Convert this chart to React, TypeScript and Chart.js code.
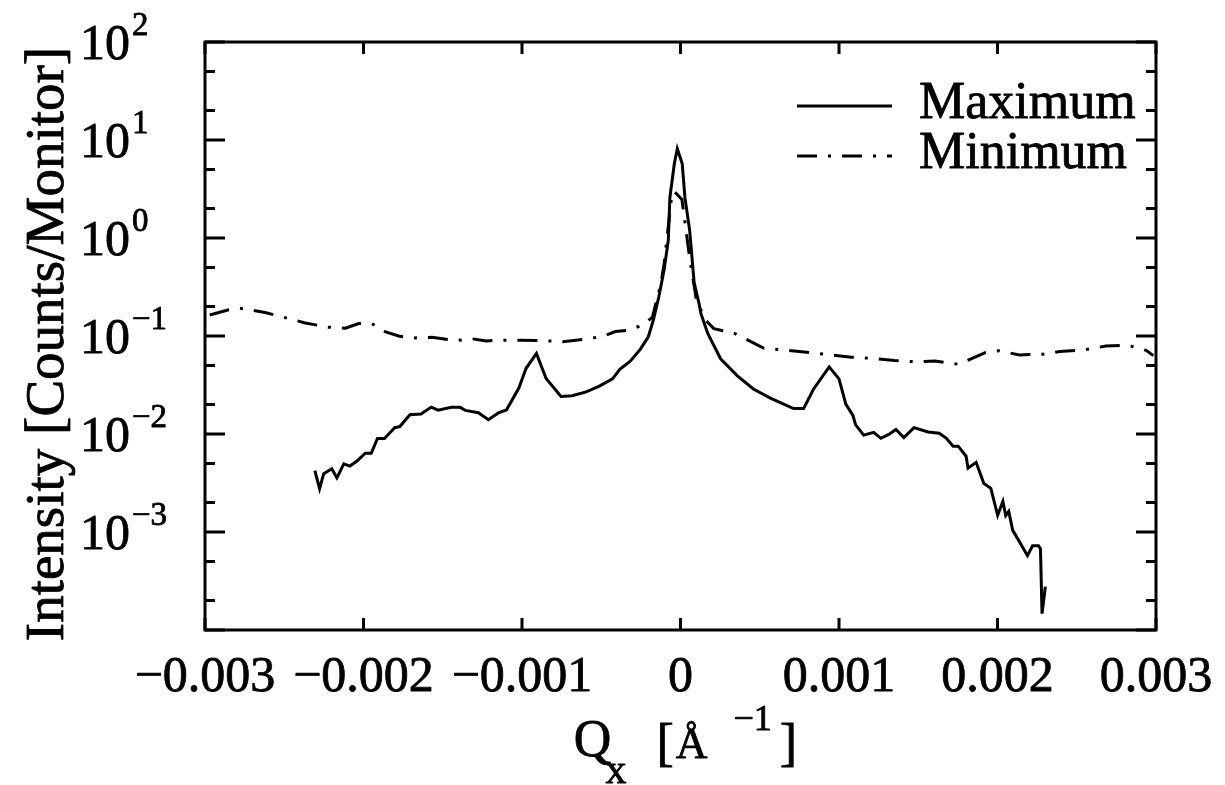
import React, { useEffect, useRef } from 'react';
import { Chart, registerables } from 'chart.js';

Chart.register(...registerables);

const FONT = '"Liberation Serif", "Times New Roman", serif';

// Q_x values (Å^-1) and intensities (counts/monitor) for the "Maximum" scan
const qxMaximum = [
  -0.002307, -0.002277, -0.002251, -0.0022, -0.002168, -0.002124, -0.002086, -0.002041, -0.001989, -0.001951,
  -0.001912, -0.001868, -0.001803, -0.001771, -0.001707, -0.001637, -0.001573, -0.001529, -0.001446, -0.001389,
  -0.001357, -0.001275, -0.001212, -0.001149, -0.001098, -0.00102, -0.000974, -0.000909, -0.000848, -0.000754,
  -0.000684, -0.000595, -0.000512, -0.000429, -0.000383, -0.000319, -0.000255, -0.000203, -0.000171, -0.000137,
  -0.000104, -0.000077, -0.000067, -0.000039, -0.00002, 0.000011, 0.000028, 0.000058, 0.000086, 0.000117,
  0.000129, 0.000172, 0.000253, 0.000359, 0.00046, 0.000567, 0.000713, 0.000777, 0.000841, 0.000938,
  0.001, 0.001043, 0.001087, 0.001105, 0.001156, 0.001219, 0.001264, 0.001314, 0.001359, 0.001409,
  0.001473, 0.001562, 0.001632, 0.001676, 0.00172, 0.001752, 0.001802, 0.001814, 0.001865, 0.001914,
  0.001958, 0.002001, 0.002034, 0.002052, 0.002071, 0.002096, 0.002145, 0.002189, 0.002221, 0.002259,
  0.002271, 0.002281, 0.002302,
];
const intensityMaximum = [
  4.23e-3, 2.77e-3, 3.94e-3, 4.42e-3, 3.57e-3, 4.95e-3, 4.71e-3, 5.29e-3, 6.37e-3, 6.35e-3,
  9.02e-3, 9.0e-3, 1.16e-2, 1.19e-2, 1.57e-2, 1.6e-2, 1.88e-2, 1.75e-2, 1.87e-2, 1.87e-2,
  1.74e-2, 1.65e-2, 1.4e-2, 1.64e-2, 1.76e-2, 2.94e-2, 4.68e-2, 6.64e-2, 3.69e-2, 2.41e-2,
  2.46e-2, 2.69e-2, 3.08e-2, 3.65e-2, 4.56e-2, 5.49e-2, 7.26e-2, 9.82e-2, 0.146, 0.25,
  0.469, 0.946, 2.59, 5.73, 8.15, 5.71, 2.58, 1.19, 0.35, 0.214,
  0.169, 0.106, 5.86e-2, 3.92e-2, 2.88e-2, 2.32e-2, 1.82e-2, 1.82e-2, 2.9e-2, 4.84e-2,
  3.65e-2, 2.02e-2, 1.56e-2, 1.24e-2, 9.75e-3, 1.04e-2, 9.04e-3, 9.9e-3, 1.11e-2, 9.19e-3,
  1.16e-2, 1.05e-2, 1.02e-2, 9.08e-3, 7.51e-3, 7.51e-3, 5.93e-3, 4.48e-3, 5.14e-3, 3.13e-3,
  2.79e-3, 1.48e-3, 2.05e-3, 1.47e-3, 1.62e-3, 1.04e-3, 7.62e-4, 5.74e-4, 7.24e-4, 7.24e-4,
  6.75e-4, 1.47e-4, 2.77e-4,
];

// "Minimum" scan
const qxMinimum = [
  -0.00297, -0.002856, -0.00278, -0.002621, -0.002495, -0.002368, -0.002222, -0.002114, -0.002031, -0.001949,
  -0.00186, -0.001778, -0.001695, -0.001568, -0.001416, -0.001314, -0.001225, -0.001143, -0.001016, -0.00087,
  -0.000743, -0.000603, -0.000488, -0.000411, -0.000335, -0.000234, -0.000177, -0.000123, -0.000103, -0.000054,
  -0.00004, 0.000009, 0.000035, 0.00006, 0.000098, 0.00013, 0.00016, 0.00021, 0.000337, 0.000413,
  0.000527, 0.000679, 0.000825, 0.000951, 0.001078, 0.001218, 0.001351, 0.00149, 0.001605, 0.001757,
  0.00184, 0.001922, 0.002011, 0.002138, 0.002284, 0.002392, 0.002551, 0.002684, 0.002824, 0.002938,
  0.002983,
];
const intensityMinimum = [
  0.164, 0.184, 0.192, 0.174, 0.154, 0.136, 0.123, 0.12, 0.134, 0.134,
  0.11, 0.1, 0.0953, 0.097, 0.0897, 0.0936, 0.0891, 0.0908, 0.0904, 0.0898,
  0.0873, 0.0929, 0.0993, 0.111, 0.114, 0.13, 0.156, 0.346, 0.552, 2.84,
  3.0, 2.47, 1.19, 0.59, 0.246, 0.182, 0.144, 0.119, 0.107, 0.093,
  0.075, 0.0712, 0.0675, 0.0641, 0.0608, 0.059, 0.0561, 0.0545, 0.0556, 0.0514,
  0.059, 0.0676, 0.0707, 0.064, 0.0652, 0.0695, 0.0724, 0.0789, 0.0804, 0.0713,
  0.063,
];

const seriesLabels = ['Maximum', 'Minimum'];

const xTickValues = [-0.003, -0.002, -0.001, 0, 0.001, 0.002, 0.003];
const xTickLabels = ['\u22120.003', '\u22120.002', '\u22120.001', '0', '0.001', '0.002', '0.003'];

const yMajorValues = [1e-4, 1e-3, 1e-2, 1e-1, 1, 10, 100];
const yMinorValues = [2e-4, 5e-4, 2e-3, 5e-3, 2e-2, 5e-2, 0.2, 0.5, 2, 5, 20, 50];
const yLabelValues = [1e-3, 1e-2, 1e-1, 1, 10, 100];
const yLabelExponents = ['\u22123', '\u22122', '\u22121', '0', '1', '2'];

const yTitle = 'Intensity [Counts/Monitor]';

const f = (size: number) => `${size}px ${FONT}`;

// draw text slightly heavier, like the scanned original
const heavyText = (ctx: CanvasRenderingContext2D, t: string, x: number, y: number) => {
  ctx.fillText(t, x, y);
  ctx.strokeText(t, x, y);
};

const decorPlugin = {
  id: 'decor',
  afterDraw(chart: any) {
    const { ctx, chartArea: a, scales } = chart;
    const xs = scales.x;
    const ys = scales.y;
    ctx.save();
    ctx.strokeStyle = '#000';
    ctx.fillStyle = '#000';
    ctx.lineCap = 'butt';
    ctx.setLineDash([]);

    // frame
    ctx.lineWidth = 3;
    ctx.strokeRect(a.left, a.top, a.right - a.left, a.bottom - a.top);

    // ticks
    ctx.beginPath();
    xTickValues.forEach((v) => {
      const px = xs.getPixelForValue(v);
      ctx.moveTo(px, a.bottom);
      ctx.lineTo(px, a.bottom - 12);
      ctx.moveTo(px, a.top);
      ctx.lineTo(px, a.top + 12);
    });
    yMajorValues.forEach((v) => {
      const py = ys.getPixelForValue(v);
      ctx.moveTo(a.left, py);
      ctx.lineTo(a.left + 20, py);
      ctx.moveTo(a.right, py);
      ctx.lineTo(a.right - 20, py);
    });
    yMinorValues.forEach((v) => {
      const py = ys.getPixelForValue(v);
      ctx.moveTo(a.left, py);
      ctx.lineTo(a.left + 10, py);
      ctx.moveTo(a.right, py);
      ctx.lineTo(a.right - 10, py);
    });
    ctx.stroke();

    ctx.lineWidth = 0.8;
    ctx.lineJoin = 'round';

    // x tick labels
    ctx.font = f(50);
    ctx.textAlign = 'center';
    ctx.textBaseline = 'alphabetic';
    xTickValues.forEach((v, i) => {
      heavyText(ctx, xTickLabels[i], xs.getPixelForValue(v), a.bottom + 61);
    });

    // y tick labels 10^n
    ctx.textAlign = 'left';
    yLabelValues.forEach((v, i) => {
      const py = ys.getPixelForValue(v);
      const x0 = a.left - 125;
      ctx.font = f(50);
      heavyText(ctx, '10', x0, py + 17);
      const w = ctx.measureText('10').width;
      ctx.font = f(33);
      heavyText(ctx, yLabelExponents[i], x0 + w + 2, py - 7);
    });

    // y title
    ctx.save();
    ctx.translate(a.left - 142, (a.top + a.bottom) / 2 + 8);
    ctx.rotate(-Math.PI / 2);
    ctx.font = f(55);
    ctx.textAlign = 'center';
    heavyText(ctx, yTitle, 0, 0);
    ctx.restore();

    // x title: Q_x [Å^-1]
    const pieces = [
      { t: 'Q', size: 52, dy: 0, gap: 0 },
      { t: 'x', size: 42, dy: 27, gap: -6 },
      { t: '[', size: 52, dy: 4, gap: 30 },
      { t: '\u00C5', size: 44, dy: 2, gap: 2 },
      { t: '\u22121', size: 36, dy: -26, gap: 26 },
      { t: ']', size: 52, dy: 4, gap: 8 },
    ];
    let total = 0;
    const widths = pieces.map((p) => {
      ctx.font = f(p.size);
      const w = ctx.measureText(p.t).width;
      total += w + p.gap;
      return w;
    });
    let cx = (a.left + a.right) / 2 + 5 - total / 2;
    const base = a.bottom + 126;
    ctx.textAlign = 'left';
    pieces.forEach((p, i) => {
      cx += p.gap;
      ctx.font = f(p.size);
      heavyText(ctx, p.t, cx, base + p.dy);
      cx += widths[i];
    });

    // legend
    chart.data.datasets.forEach((ds: any, i: number) => {
      const ly = a.top + 64 + i * 50;
      ctx.lineWidth = ds.borderWidth;
      ctx.setLineDash(ds.borderDash || []);
      ctx.beginPath();
      ctx.moveTo(a.right - 359, ly);
      ctx.lineTo(a.right - 264, ly);
      ctx.stroke();
      ctx.setLineDash([]);
      ctx.lineWidth = 0.8;
      ctx.font = f(52);
      heavyText(ctx, ds.label, a.right - 237, ly + 12);
    });

    ctx.restore();
  },
};

export default function App() {
  const canvasRef = useRef<HTMLCanvasElement | null>(null);

  useEffect(() => {
    const canvas = canvasRef.current;
    if (!canvas) return;
    const chart = new Chart(canvas, {
      type: 'line',
      data: {
        datasets: [
          {
            label: seriesLabels[0],
            data: qxMaximum.map((q, i) => ({ x: q, y: intensityMaximum[i] })),
            borderColor: '#000',
            borderWidth: 3,
            pointRadius: 0,
            tension: 0,
            fill: false,
          },
          {
            label: seriesLabels[1],
            data: qxMinimum.map((q, i) => ({ x: q, y: intensityMinimum[i] })),
            borderColor: '#000',
            borderWidth: 3,
            borderDash: [20, 11, 3, 11],
            pointRadius: 0,
            tension: 0,
            fill: false,
          },
        ],
      },
      options: {
        responsive: false,
        maintainAspectRatio: false,
        devicePixelRatio: 1,
        animation: false,
        layout: { padding: { left: 205, right: 69, top: 42, bottom: 155 } },
        scales: {
          x: { type: 'linear', min: -0.003, max: 0.003, display: false },
          y: { type: 'logarithmic', min: 1e-4, max: 100, display: false },
        },
        plugins: {
          legend: { display: false },
          tooltip: { enabled: false },
        },
      },
      plugins: [decorPlugin],
    } as any);
    return () => chart.destroy();
  }, []);

  return (
    <div style={{ position: 'fixed', left: 0, top: 0, width: 1225, height: 785, background: '#fff' }}>
      <canvas ref={canvasRef} width={1225} height={785} style={{ display: 'block', width: 1225, height: 785 }} />
    </div>
  );
}
